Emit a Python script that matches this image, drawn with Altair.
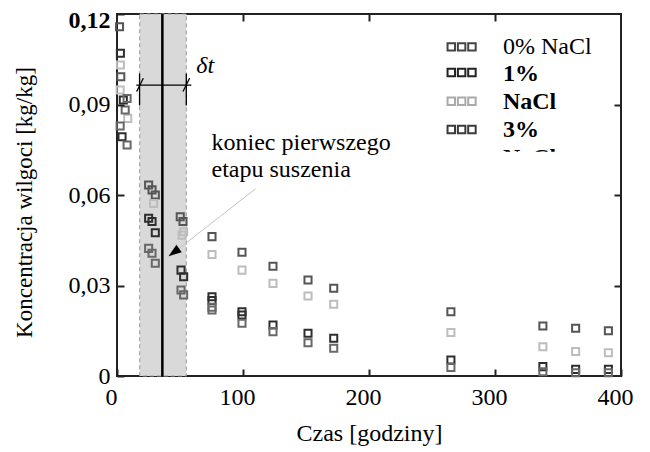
import altair as alt
import pandas as pd

FONT = "Liberation Serif"

# ---------------- data ----------------
s1_t = [2, 3, 25.1, 27.8, 30.4, 50.2, 52.4, 75.4, 99.2, 123.8, 151.6, 172, 265, 338, 364, 390]
s1_v = [0.1158, 0.0992, 0.0633, 0.0617, 0.0600, 0.0528, 0.0512, 0.0462, 0.0410, 0.0364,
        0.0318, 0.0291, 0.0213, 0.0166, 0.0158, 0.0150]

s2_t = [2.7, 2.5, 8.5, 29, 52.9, 51.6, 75.4, 99.2, 123.8, 151.6, 172, 265, 338, 364, 390]
s2_v = [0.1031, 0.0948, 0.0854, 0.0572, 0.0478, 0.0467, 0.0403, 0.0351, 0.0307, 0.0265,
        0.0238, 0.0144, 0.0097, 0.0081, 0.0077]

s3_t = [2.7, 5, 4, 25.1, 27.8, 30.4, 50.8, 52.9, 75.4, 75.4, 99.2, 99.2, 123.8, 151.6, 172,
        265, 338, 364, 390]
s3_v = [0.1070, 0.0915, 0.0793, 0.0523, 0.0512, 0.0475, 0.0351, 0.0329, 0.0263, 0.0250,
        0.0213, 0.0202, 0.0169, 0.01415, 0.0125, 0.0053, 0.0031, 0.0022, 0.0022]

s4_t = [8, 6.5, 2.5, 8, 25.1, 27.8, 30.4, 50.8, 52.9, 75.4, 75.4, 99.2, 123.8, 151.6, 172,
        265, 338, 364, 390]
s4_v = [0.0920, 0.0882, 0.0829, 0.0766, 0.0423, 0.0407, 0.0374, 0.0285, 0.0269, 0.0228,
        0.0219, 0.0175, 0.0147, 0.0110, 0.0092, 0.0028, 0.0014, 0.0011, 0.0011]

series_keys = ["s1", "s2", "s3", "s4"]
series_colors = ["#555555", "#bdbdbd", "#2e2e2e", "#686868"]

x_ticks = [0, 100, 200, 300, 400]
y_ticks = [0, 0.03, 0.06, 0.09, 0.12]

band_start = [18]
band_end = [55]
stage_end = [36]

# delta-t bracket (data space)
bracket_x1 = [15.3, 17.9, 55.0, 15.6, 52.4]
bracket_x2 = [59.0, 17.9, 55.0, 20.9, 57.6]
bracket_y1 = [0.0964, 0.0897, 0.0897, 0.0943, 0.0943]
bracket_y2 = [0.0964, 0.1003, 0.1003, 0.0987, 0.0987]

dt_label = ["δt"]
dt_pos = [(70, 0.1028)]

annot_lines = ["koniec pierwszego", "etapu suszenia"]
annot_t = [75, 75]
annot_v = [0.0772, 0.0683]

arrow_from = (109.8, 0.0620)
arrow_to = (49.3, 0.0423)
arrow_head = (45.1, 0.0410)

legend_sym_rows = [0.1091, 0.1006, 0.0911, 0.0817]
legend_sym_colors = ["#444444", "#222222", "#aaaaaa", "#3a3a3a"]
legend_sym_t = [265.3, 273.5, 281.7]
legend_texts = ["0% NaCl", "1%", "NaCl", "3%", "NaCl"]
legend_weights = ["normal", "bold", "bold", "bold", "bold"]
legend_text_v = [0.1091, 0.1002, 0.0908, 0.0814, 0.0723]
legend_text_t = 306.3
cover_box = (300, 360, 0.0620, 0.0743)

# ---------------- tables ----------------
df = pd.concat([
    pd.DataFrame({"t": t, "v": v, "s": k})
    for t, v, k in [(s1_t, s1_v, "s1"), (s2_t, s2_v, "s2"), (s3_t, s3_v, "s3"), (s4_t, s4_v, "s4")]
], ignore_index=True)

band_df = pd.DataFrame({"a": band_start, "b": band_end})
stage_df = pd.DataFrame({"c": stage_end})
br_df = pd.DataFrame({"x1": bracket_x1, "x2": bracket_x2, "y1": bracket_y1, "y2": bracket_y2})
dt_df = pd.DataFrame({"t": [p[0] for p in dt_pos], "v": [p[1] for p in dt_pos], "txt": dt_label})
an_df = pd.DataFrame({"t": annot_t, "v": annot_v, "txt": annot_lines})
arr_df = pd.DataFrame({"x1": [arrow_from[0]], "x2": [arrow_to[0]], "y1": [arrow_from[1]], "y2": [arrow_to[1]]})
head_df = pd.DataFrame({"t": [arrow_head[0]], "v": [arrow_head[1]]})
leg_sym_df = pd.DataFrame([
    {"t": lt, "v": rv, "c": rc}
    for rv, rc in zip(legend_sym_rows, legend_sym_colors) for lt in legend_sym_t
])
leg_txt_df = pd.DataFrame({"t": [legend_text_t] * len(legend_texts), "v": legend_text_v,
                           "txt": legend_texts, "w": legend_weights})
cover_df = pd.DataFrame({"a": [cover_box[0]], "b": [cover_box[1]], "c": [cover_box[2]], "d": [cover_box[3]]})

# ---------------- scales & axes ----------------
xs = alt.Scale(domain=[0, 400], nice=False, zero=False)
ys = alt.Scale(domain=[0, 0.12], nice=False, zero=False)

ax_bottom = alt.Axis(orient="bottom", values=x_ticks, offset=-7, tickSize=7, tickWidth=2,
                     tickColor="#222222", domain=False, grid=False, labelFont=FONT,
                     labelFontSize=24, labelColor="black", labelPadding=9, labelOffset=-6,
                     labelFlush=False, labelOverlap=False, format="d",
                     title="Czas [godziny]", titleFont=FONT, titleFontSize=24,
                     titleFontWeight="normal", titleColor="black", titlePadding=12, zindex=2)
ax_left = alt.Axis(orient="left", values=y_ticks, offset=-7, tickSize=7, tickWidth=2,
                   tickColor="#222222", domain=False, grid=False, labelFont=FONT,
                   labelFontSize=24, labelColor="black", labelPadding=7, labelFlush=False,
                   labelOverlap=False,
                   labelExpr="datum.value == 0 ? '0' : replace(format(datum.value, '.2f'), '.', ',')",
                   labelFontWeight=alt.condition("datum.value > 0.11", alt.value("bold"), alt.value("normal")),
                   labelOffset=alt.condition("datum.value > 0.11", alt.value(6), alt.value(0)),
                   title="Koncentracja wilgoci [kg/kg]", titleFont=FONT, titleFontSize=23,
                   titleFontWeight="normal", titleColor="black", titlePadding=32, titleY=188,
                   zindex=2)
ax_top = alt.Axis(orient="top", values=[100, 200, 300], offset=-7, tickSize=7, tickWidth=2,
                  tickColor="#222222", domain=False, grid=False, labels=False, title="", zindex=2)
ax_right = alt.Axis(orient="right", values=[0.03, 0.06, 0.09], offset=-7, tickSize=7, tickWidth=2,
                    tickColor="#222222", domain=False, grid=False, labels=False, title="", zindex=2)

# ---------------- layers ----------------
band = alt.Chart(band_df).mark_rect(fill="#d9d9d9", stroke="#9a9a9a", strokeDash=[4, 3],
                                    strokeWidth=1).encode(
    x=alt.X("a:Q", scale=xs, axis=None), x2="b:Q")

stage = alt.Chart(stage_df).mark_rule(color="black", strokeWidth=2.5).encode(
    x=alt.X("c:Q", scale=xs, axis=None))

points = alt.Chart(df).mark_point(shape="square", filled=False, size=50, strokeWidth=2,
                                  opacity=1).encode(
    x=alt.X("t:Q", scale=xs, axis=ax_bottom),
    y=alt.Y("v:Q", scale=ys, axis=ax_left),
    color=alt.Color("s:N", scale=alt.Scale(domain=series_keys, range=series_colors), legend=None))

bracket = alt.Chart(br_df).mark_rule(color="black", strokeWidth=1.3).encode(
    x=alt.X("x1:Q", scale=xs, axis=ax_top), x2="x2:Q",
    y=alt.Y("y1:Q", scale=ys, axis=ax_right), y2="y2:Q")

dt_text = alt.Chart(dt_df).mark_text(font=FONT, fontSize=24, fontStyle="italic", color="black",
                                     align="center", baseline="middle").encode(
    x=alt.X("t:Q", scale=xs, axis=None), y=alt.Y("v:Q", scale=ys, axis=None), text="txt:N")

annot = alt.Chart(an_df).mark_text(font=FONT, fontSize=24, color="black", align="left",
                                   baseline="middle").encode(
    x=alt.X("t:Q", scale=xs, axis=None), y=alt.Y("v:Q", scale=ys, axis=None), text="txt:N")

arrow_line = alt.Chart(arr_df).mark_rule(color="#c4c4c4", strokeWidth=1).encode(
    x=alt.X("x1:Q", scale=xs, axis=None), x2="x2:Q",
    y=alt.Y("y1:Q", scale=ys, axis=None), y2="y2:Q")

arrow_head_mark = alt.Chart(head_df).mark_point(shape="M0,-1L0.7,1L-0.7,1Z", filled=True,
                                                color="black", size=169, angle=234,
                                                opacity=1).encode(
    x=alt.X("t:Q", scale=xs, axis=None), y=alt.Y("v:Q", scale=ys, axis=None))

leg_syms = alt.Chart(leg_sym_df).mark_point(shape="square", filled=False, size=56, strokeWidth=2,
                                            opacity=1).encode(
    x=alt.X("t:Q", scale=xs, axis=None), y=alt.Y("v:Q", scale=ys, axis=None),
    color=alt.Color("c:N", scale=None))

leg_txt_normal = alt.Chart(leg_txt_df).transform_filter("datum.w == 'normal'").mark_text(
    font=FONT, fontSize=24, color="black", align="left", baseline="middle").encode(
    x=alt.X("t:Q", scale=xs, axis=None), y=alt.Y("v:Q", scale=ys, axis=None), text="txt:N")
leg_txt_bold = alt.Chart(leg_txt_df).transform_filter("datum.w == 'bold'").mark_text(
    font=FONT, fontSize=24, fontWeight="bold", color="black", align="left",
    baseline="middle").encode(
    x=alt.X("t:Q", scale=xs, axis=None), y=alt.Y("v:Q", scale=ys, axis=None), text="txt:N")

cover = alt.Chart(cover_df).mark_rect(color="white").encode(
    x=alt.X("a:Q", scale=xs, axis=None), x2="b:Q",
    y=alt.Y("c:Q", scale=ys, axis=None), y2="d:Q")

chart = alt.layer(
    band, stage, points, bracket, dt_text, annot, arrow_line, arrow_head_mark,
    leg_syms, leg_txt_normal, leg_txt_bold, cover
).resolve_axis(x="independent", y="independent").properties(
    width=504, height=362,
    autosize=alt.AutoSizeParams(type="none"),
    padding={"left": 109, "top": 6, "right": 20, "bottom": 76},
    background="white",
).configure_view(stroke="#222222", strokeWidth=2)

chart.save("out.html", embed_options={"renderer": "svg", "actions": False})
